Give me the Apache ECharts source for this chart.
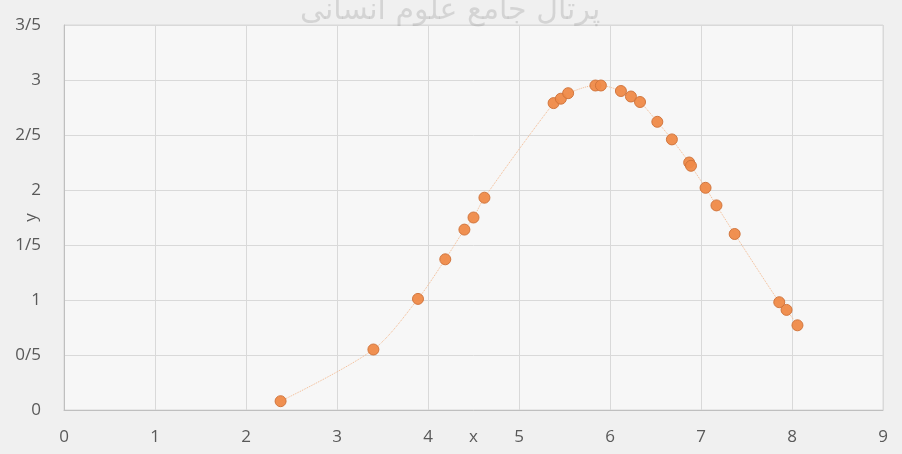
<!DOCTYPE html>
<html><head><meta charset="utf-8">
<script src="https://cdn.jsdelivr.net/npm/echarts@6/dist/echarts.min.js"></script>
<style>html,body{margin:0;padding:0;background:#f0f0f0;}#c{width:902px;height:454px;}</style>
</head><body><div id="c"></div>
<script>
const xValues = [2.38, 3.40, 3.89, 4.19, 4.40, 4.50, 4.62, 5.38, 5.46, 5.54, 5.84, 5.90, 6.12, 6.23, 6.33, 6.52, 6.68, 6.87, 6.89, 7.05, 7.17, 7.37, 7.86, 7.94, 8.06];
const yValues = [0.08, 0.55, 1.01, 1.37, 1.64, 1.75, 1.93, 2.79, 2.83, 2.88, 2.95, 2.95, 2.90, 2.85, 2.80, 2.62, 2.46, 2.25, 2.22, 2.02, 1.86, 1.60, 0.98, 0.91, 0.77];
const yTickLabels = {"0":"0","0.5":"0/5","1":"1","1.5":"1/5","2":"2","2.5":"2/5","3":"3","3.5":"3/5"};
const xName = "x", yName = "y";
const watermark = "پرتال جامع علوم انسانی";

const points = xValues.map((x, i) => [x, yValues[i]]);
const chart = echarts.init(document.getElementById('c'));
chart.setOption({
  backgroundColor: '#f0f0f0',
  animation: false,
  textStyle: {fontFamily: 'Open Sans'},
  grid: {left: 64, right: 19, top: 25, bottom: 44, outerBoundsMode: 'none', containLabel: false, show: true, backgroundColor: '#f7f7f7', borderColor: '#d9d9d9', borderWidth: 1},
  graphic: [{type: 'text', left: 300, top: -4, z: 100, style: {text: watermark, font: '30px "DejaVu Sans"', fill: 'rgba(90,90,90,0.18)'}}],
  xAxis: {
    type: 'value', min: 0, max: 9, interval: 1,
    name: xName, nameLocation: 'middle', nameGap: 19, nameMoveOverlap: false,
    nameTextStyle: {color: '#595959', fontSize: 17, verticalAlign: 'top'},
    axisLine: {show: true, lineStyle: {color: '#bfbfbf'}},
    axisTick: {show: false},
    axisLabel: {color: '#595959', fontSize: 17, margin: 19},
    splitLine: {show: true, lineStyle: {color: '#d9d9d9'}}
  },
  yAxis: {
    type: 'value', min: 0, max: 3.5, interval: 0.5,
    name: yName, nameLocation: 'middle', nameGap: 24, nameMoveOverlap: false,
    nameTextStyle: {color: '#595959', fontSize: 17},
    axisLine: {show: true, lineStyle: {color: '#bfbfbf'}},
    axisTick: {show: false},
    axisLabel: {color: '#595959', fontSize: 17, margin: 23, formatter: v => yTickLabels[String(v)] ?? String(v)},
    splitLine: {show: true, lineStyle: {color: '#d9d9d9'}}
  },
  series: [{
    type: 'line', data: points, smooth: 0.3,
    symbol: 'circle', symbolSize: 11,
    lineStyle: {color: '#f4b98f', width: 1, type: 'dotted'},
    itemStyle: {color: '#ef8a48', borderColor: '#d0733a', borderWidth: 1, opacity: 0.95}
  }]
});
</script></body></html>
